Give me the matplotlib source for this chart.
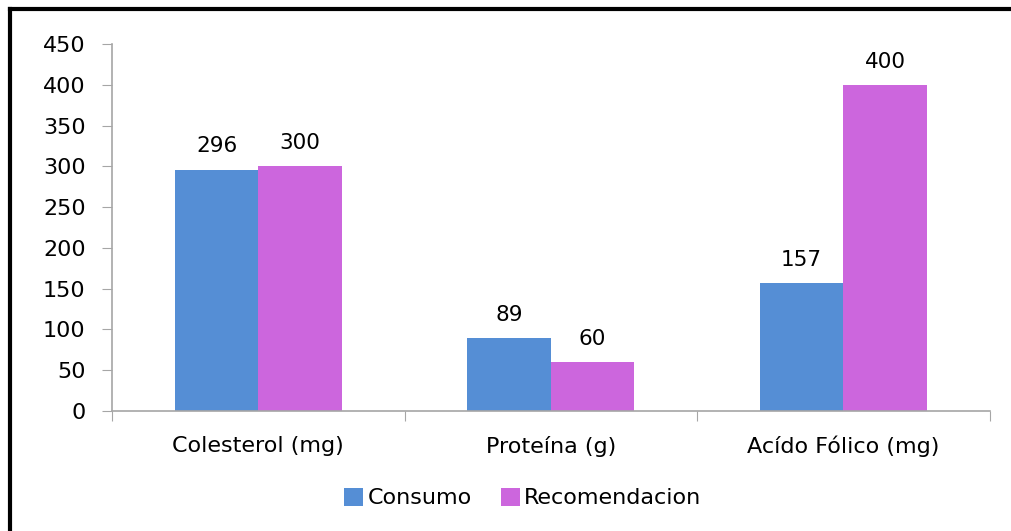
import matplotlib.pyplot as plt
from matplotlib.lines import Line2D
import numpy as np

plt.rcParams['font.family'] = ['DejaVu Sans']

categorias = ['Colesterol (mg)', 'Proteína (g)', 'Acído Fólico (mg)']
consumo = [296, 89, 157]
recomendacion = [300, 60, 400]

azul = '#558ed5'
morado = '#cc66dd'
gris = '#a6a6a6'

fig = plt.figure(figsize=(10.11, 5.31), dpi=100)
ax = fig.add_axes([0.1108, 0.226, 0.868, 0.691])

x = np.arange(len(categorias))
w = 0.285
b1 = ax.bar(x - w / 2, consumo, w, color=azul, label='Consumo')
b2 = ax.bar(x + w / 2, recomendacion, w, color=morado, label='Recomendacion')

for barras in (b1, b2):
    for r in barras:
        ax.annotate(f'{r.get_height():g}', (r.get_x() + r.get_width() / 2, r.get_height()),
                    xytext=(0, 9.5), textcoords='offset points', ha='center', va='bottom',
                    fontsize=15.5)

ax.set_xlim(-0.5, 2.5)
ax.set_ylim(0, 450)
ax.set_yticks(range(0, 451, 50))
ax.tick_params(axis='y', labelsize=16, length=7, color=gris, pad=12)

# ticks del eje x en los limites de cada categoria
ax.set_xticks([-0.5, 0.5, 1.5, 2.5])
ax.set_xticklabels([])
ax.set_xticks(x, minor=True)
ax.set_xticklabels(categorias, minor=True, fontsize=16)
ax.tick_params(axis='x', which='major', length=7, color=gris)
ax.tick_params(axis='x', which='minor', length=0, pad=18)

for s in ('top', 'right'):
    ax.spines[s].set_visible(False)
for s in ('left', 'bottom'):
    ax.spines[s].set_color(gris)
    ax.spines[s].set_linewidth(1.2)

ax.legend(loc='upper center', bbox_to_anchor=(0.468, -0.155), ncol=2, frameon=False,
          fontsize=16, handlelength=0.85, handleheight=0.85, handletextpad=0.2,
          columnspacing=1.3)

# marco exterior
fig.add_artist(Line2D([0.0099, 0.0099], [0, 0.983], color='black', lw=3))
fig.add_artist(Line2D([0.0099, 1.0], [0.983, 0.983], color='black', lw=3))

fig.savefig('out.png', dpi=100)
